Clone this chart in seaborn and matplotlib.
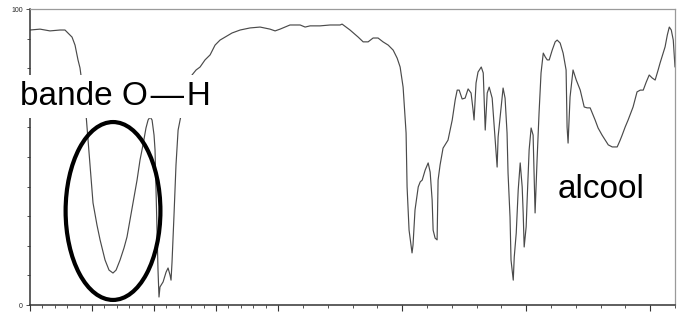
"""
Spectre IR d'un alcool : bande O-H entourée
"""

import numpy as np
import pandas as pd
import matplotlib
matplotlib.use("Agg")
import matplotlib.pyplot as plt
from matplotlib.patches import Ellipse
import seaborn as sns

wavenumber = [
    4000, 3919, 3839, 3758, 3718, 3694, 3661, 3637, 3613, 3597, 3573, 3548,
    3532, 3516, 3492, 3460, 3435, 3395, 3363, 3331, 3306, 3274, 3242, 3218,
    3194, 3169, 3137, 3113, 3089, 3065, 3048, 3032, 3016, 3000, 2992, 2984,
    2976, 2968, 2960, 2952, 2927, 2903, 2887, 2871, 2863, 2855, 2839, 2823,
    2806, 2782, 2758, 2726, 2694, 2661, 2629, 2589, 2548, 2508, 2468, 2427,
    2371, 2306, 2226, 2145, 2065, 2024,
    1992, 1972, 1952, 1911, 1891, 1871, 1831, 1790, 1750, 1742, 1710, 1677,
    1657, 1637, 1617, 1597, 1577, 1556, 1536, 1520, 1508, 1496, 1488, 1484,
    1480, 1472, 1464, 1460, 1456, 1448, 1435, 1427, 1419, 1407, 1395, 1387,
    1379, 1375, 1367, 1359, 1355, 1347, 1335, 1315, 1298, 1286, 1278, 1270,
    1258, 1246, 1234, 1222, 1214, 1210, 1202, 1194, 1181, 1173, 1165, 1157,
    1149, 1137, 1125, 1117, 1113, 1105, 1093, 1085, 1077, 1073, 1065, 1061,
    1052, 1048, 1040, 1032, 1024, 1016, 1012, 1008, 1000, 996, 988, 980,
    972, 964, 956, 948, 940, 931, 923, 915, 907, 895, 883, 875,
    863, 851, 839, 835, 831, 823, 811, 798, 782, 766, 754, 742,
    722, 710, 694, 681, 669, 653, 633, 621, 613, 601, 589, 577,
    569, 553, 540, 528, 516, 504, 492, 480, 468, 460, 448, 440,
    431, 423, 415, 407, 400,
]
transmittance = [
    92.9, 93.2, 92.6, 92.9, 92.9, 91.9, 90.5, 87.8, 82.8, 80.1, 72.6, 64.2,
    55.7, 47.3, 34.5, 27.0, 22.0, 15.2, 11.8, 10.8, 11.8, 15.2, 19.3, 23.0,
    28.7, 34.5, 42.2, 49.0, 54.1, 59.8, 62.5, 63.5, 62.5, 57.4, 52.4, 38.9,
    24.3, 11.8, 2.7, 6.1, 7.8, 11.1, 12.5, 10.1, 8.4, 14.5, 30.4, 47.3,
    59.1, 64.2, 69.3, 74.3, 77.7, 79.4, 80.4, 82.8, 84.5, 87.8, 89.5, 90.5,
    91.9, 92.9, 93.6, 93.9, 93.2, 92.6,
    93.2, 93.9, 94.6, 94.6, 93.9, 94.3, 94.3, 94.6, 94.6, 94.9, 92.9, 90.5,
    88.9, 88.9, 90.2, 90.2, 88.9, 87.8, 86.1, 83.4, 80.4, 73.6, 63.5, 58.1,
    39.9, 25.3, 20.3, 17.6, 20.3, 32.1, 39.9, 41.6, 42.2, 45.6, 48.0, 44.9,
    35.5, 25.3, 22.6, 22.0, 42.2, 47.3, 53.0, 55.7, 62.5, 69.3, 72.6, 72.6,
    69.6, 69.9, 73.0, 71.6, 65.9, 62.5, 75.0, 78.7, 80.4, 78.4, 59.1, 71.6,
    73.6, 69.9, 55.7, 46.6, 56.8, 63.5, 73.3, 69.9, 58.1, 44.6, 29.7, 15.2,
    8.4, 16.2, 24.3, 38.9, 48.0, 39.9, 31.1, 19.6, 26.4, 35.5, 52.4, 59.8,
    57.4, 31.1, 49.0, 64.9, 78.4, 85.1, 83.8, 82.8, 82.8, 86.1, 88.9, 89.5,
    88.5, 85.1, 79.4, 60.1, 54.7, 70.3, 79.4, 76.0, 72.6, 66.9, 66.6, 66.6,
    62.5, 59.8, 57.4, 55.7, 54.1, 53.4, 53.4, 55.7, 57.4, 60.1, 62.5, 65.2,
    66.9, 72.0, 72.6, 72.6, 75.3, 77.7, 76.7, 76.0, 79.4, 81.8, 85.1, 87.2,
    91.2, 93.9, 92.9, 89.5, 80.4,
]

y_ticks = [0, 100]
y_tick_labels = ["0", "100"]


def fwd(w):
    # échelle dilatée x2 sous 2000 cm-1
    w = np.asarray(w, dtype=float)
    pos = np.where(w >= 2000, 4000 - w, 2000 + 2 * (2000 - w))
    return -pos


def inv(p):
    q = -np.asarray(p, dtype=float)
    return np.where(q <= 2000, 4000 - q, 2000 - (q - 2000) / 2)


def main():
    sns.set_style("ticks")
    plt.rcParams['font.family'] = ['Liberation Sans', 'DejaVu Sans']

    df = pd.DataFrame({"w": wavenumber, "T": transmittance})

    fig = plt.figure(figsize=(6.82, 3.2), dpi=100)
    ax = fig.add_axes([30 / 682, 15 / 320, 645 / 682, 296 / 320])

    sns.lineplot(data=df, x="w", y="T", ax=ax, sort=False, estimator=None,
                 color="#4a4a4a", linewidth=0.85)

    ax.set_xscale("function", functions=(fwd, inv))
    ax.set_xlim(4000, 400)
    ax.set_ylim(0, 100)

    ax.set_xticks(np.arange(4000, 399, -500))
    ax.set_xticks(np.arange(4000, 399, -100), minor=True)
    ax.set_xticklabels([])
    ax.set_yticks(y_ticks)
    ax.set_yticklabels(y_tick_labels, fontsize=5)
    ax.set_yticks(np.arange(10, 100, 10), minor=True)
    ax.tick_params(axis="x", which="major", length=4, width=0.8, color="#333333")
    ax.tick_params(axis="x", which="minor", length=2, width=0.6, color="#333333")
    ax.tick_params(axis="y", which="major", length=3, width=0.6, color="#333333", pad=2)
    ax.tick_params(axis="y", which="minor", length=2, width=0.6, color="#333333")
    ax.set_xlabel("")
    ax.set_ylabel("")

    for side in ["left", "bottom"]:
        ax.spines[side].set_color("#333333")
        ax.spines[side].set_linewidth(1.1)
    for side in ["top", "right"]:
        ax.spines[side].set_visible(True)
        ax.spines[side].set_color("#9a9a9a")
        ax.spines[side].set_linewidth(0.9)

    # ellipse autour de la bande O-H
    ell = Ellipse((0.1287, 0.3176), 0.147, 0.601, transform=ax.transAxes,
                  fill=False, edgecolor="black", linewidth=3, zorder=5)
    ax.add_patch(ell)

    fig.text(20 / 682, 1 - 105 / 320, "bande O\u200a\u2014\u200aH", fontsize=24,
             color="black", va="baseline", ha="left",
             bbox=dict(facecolor="white", edgecolor="none", pad=4))
    fig.text(558 / 682, 1 - 198 / 320, "alcool", fontsize=24,
             color="black", va="baseline", ha="left")

    fig.savefig("out.png", dpi=100)


if __name__ == "__main__":
    main()
